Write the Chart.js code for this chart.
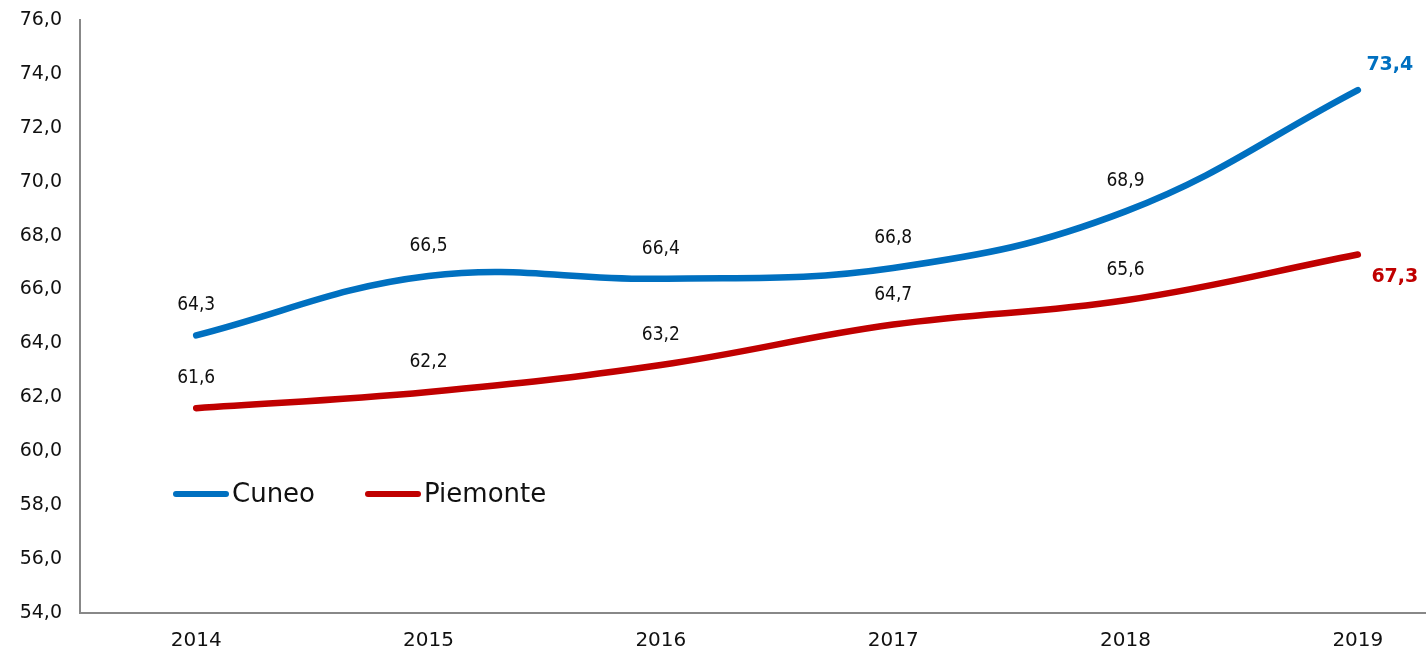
<!DOCTYPE html>
<html>
<head>
<meta charset="utf-8">
<script src="https://cdn.jsdelivr.net/npm/chart.js@4"></script>
<style>
    html, body { margin: 0; padding: 0; background: #fff; overflow: hidden; }
    #wrap { width: 1474px; height: 653px; }
</style>
</head>
<body>
<div id="wrap"><canvas id="lineChart" width="1474" height="653"></canvas></div>
<script>
// data
const years = ['2014', '2015', '2016', '2017', '2018', '2019'];
const cuneo = [64.3, 66.5, 66.4, 66.8, 68.9, 73.4];
const piemonte = [61.6, 62.2, 63.2, 64.7, 65.6, 67.3];
const yTicks = [54, 56, 58, 60, 62, 64, 66, 68, 70, 72, 74, 76];

const BLUE = '#0070C0';
const RED = '#C00000';

function fmt(v) {
    return v.toFixed(1).replace('.', ',');
}

// value labels above points, last one bold and coloured
const valueLabels = {
    id: 'valueLabels',
    afterDatasetsDraw(chart) {
        const ctx = chart.ctx;
        chart.data.datasets.forEach((ds, di) => {
            const meta = chart.getDatasetMeta(di);
            meta.data.forEach((pt, i) => {
                const last = i === meta.data.length - 1;
                ctx.save();
                ctx.textAlign = 'center';
                ctx.textBaseline = 'middle';
                if (last) {
                    ctx.font = 'bold 19px "DejaVu Sans"';
                    ctx.fillStyle = ds.borderColor;
                    if (di === 0) {
                        ctx.fillText(fmt(ds.data[i]), pt.x + 32, pt.y - 25);
                    } else {
                        ctx.fillText(fmt(ds.data[i]), pt.x + 37, pt.y + 23);
                    }
                } else {
                    ctx.font = '19px "DejaVu Sans Condensed", "DejaVu Sans"';
                    ctx.fillStyle = '#111';
                    ctx.fillText(fmt(ds.data[i]), pt.x, pt.y - 30);
                }
                ctx.restore();
            });
        });
    }
};

// legend sits inside the plot area
const innerLegend = {
    id: 'innerLegend',
    afterDraw(chart) {
        const ctx = chart.ctx;
        const items = [
            { x: 176, ds: chart.data.datasets[0] },
            { x: 368, ds: chart.data.datasets[1] }
        ];
        const y = 494;
        items.forEach(it => {
            ctx.save();
            ctx.strokeStyle = it.ds.borderColor;
            ctx.lineWidth = 6;
            ctx.lineCap = 'round';
            ctx.beginPath();
            ctx.moveTo(it.x, y);
            ctx.lineTo(it.x + 50, y);
            ctx.stroke();
            ctx.font = '26px "DejaVu Sans"';
            ctx.fillStyle = '#111';
            ctx.textBaseline = 'middle';
            ctx.textAlign = 'left';
            ctx.fillText(it.ds.label, it.x + 56, y + 1);
            ctx.restore();
        });
    }
};

const ctx = document.getElementById('lineChart').getContext('2d');
new Chart(ctx, {
    type: 'line',
    data: {
        labels: years,
        datasets: [{
            label: 'Cuneo',
            data: cuneo,
            borderColor: BLUE,
            backgroundColor: BLUE,
            borderWidth: 6.5,
            borderCapStyle: 'round',
            tension: 0.4,
            pointRadius: 0
        }, {
            label: 'Piemonte',
            data: piemonte,
            borderColor: RED,
            backgroundColor: RED,
            borderWidth: 6.5,
            borderCapStyle: 'round',
            tension: 0.4,
            pointRadius: 0
        }]
    },
    options: {
        responsive: false,
        animation: false,
        devicePixelRatio: 1,
        layout: { padding: { top: 20, left: 0, right: 0, bottom: 0 } },
        plugins: {
            legend: { display: false },
            tooltip: { enabled: false }
        },
        scales: {
            x: {
                offset: true,
                grid: { display: false, drawTicks: false },
                border: { display: true, color: '#888', width: 2 },
                ticks: {
                    color: '#111',
                    padding: 16,
                    font: { family: '"DejaVu Sans"', size: 20 }
                },
                afterFit: scale => { scale.height = 40; }
            },
            y: {
                min: 54,
                max: 76,
                afterBuildTicks: scale => { scale.ticks = yTicks.map(v => ({ value: v })); },
                grid: { display: false, drawTicks: false },
                border: { display: true, color: '#888', width: 2 },
                ticks: {
                    color: '#111',
                    padding: 18,
                    font: { family: '"DejaVu Sans"', size: 19 },
                    callback: v => fmt(v)
                },
                afterFit: scale => {
                    scale.width = 80;
                    scale.paddingTop = 0;
                }
            }
        }
    },
    plugins: [valueLabels, innerLegend]
});
</script>
</body>
</html>
